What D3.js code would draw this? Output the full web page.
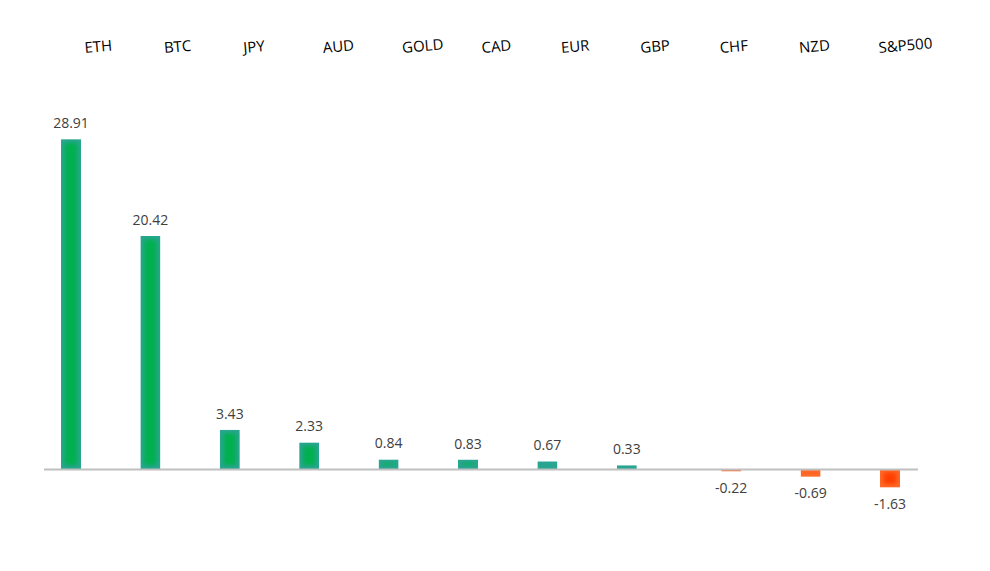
<!DOCTYPE html>
<html><head><meta charset="utf-8">
<script src="https://cdn.jsdelivr.net/npm/d3@7"></script>
<style>html,body{margin:0;padding:0;background:#fff;}svg{display:block;}</style>
</head><body>
<svg id="chart" width="990" height="571"></svg>
<script>
const categories = ["ETH","BTC","JPY","AUD","GOLD","CAD","EUR","GBP","CHF","NZD","S&P500"];
const values = [28.91, 20.42, 3.43, 2.33, 0.84, 0.83, 0.67, 0.33, -0.22, -0.69, -1.63];
const series = ["pos","neg"];

const svg = d3.select("#chart");
const defs = svg.append("defs");

const x0 = d3.scaleBand().domain(categories).range([43.8, 917.2]).paddingInner(0).paddingOuter(0);
const x1 = d3.scaleBand().domain(series).range([-25, 25]);
const y = d3.scaleLinear().domain([0, 30]).range([469, 126.7]);
const barW = 20;

const blur = defs.append("filter").attr("id","soft").attr("x","-50%").attr("y","-50%").attr("width","200%").attr("height","200%");
blur.append("feGaussianBlur").attr("stdDeviation", 2.2);

const colors = {pos:{edge:"#2aa592", core:"#00b04f"}, neg:{edge:"#ff6a28", core:"#ff3c00"}};

const data = categories.map((c,i)=>({cat:c, v:values[i], s: values[i] >= 0 ? "pos" : "neg"}));

const bars = svg.append("g");
data.forEach((d,i)=>{
  const cx = x0(d.cat) + x0.bandwidth()/2 + x1(d.s) + x1.bandwidth()/2;
  const yt = Math.min(y(d.v), y(0)), h = Math.abs(y(d.v) - y(0));
  const bx = cx - barW/2;
  const cp = defs.append("clipPath").attr("id","cp"+i);
  cp.append("rect").attr("x",bx).attr("y",yt).attr("width",barW).attr("height",h);
  const g = bars.append("g").attr("clip-path","url(#cp"+i+")");
  g.append("rect").attr("x",bx).attr("y",yt).attr("width",barW).attr("height",h).attr("fill",colors[d.s].edge);
  const ins = 3.5;
  if (h > 2*ins) {
    g.append("rect").attr("x",bx+ins).attr("y",yt+ins).attr("width",barW-2*ins).attr("height",h-2*ins)
     .attr("fill",colors[d.s].core).attr("filter","url(#soft)");
  }
  svg.append("text")
    .attr("x", cx)
    .attr("y", d.v >= 0 ? y(d.v) - 11 : y(d.v) + 21)
    .attr("text-anchor","middle")
    .attr("font-family","'Open Sans', 'DejaVu Sans', sans-serif")
    .attr("font-size", 14)
    .attr("fill","#404040")
    .text(d.v.toFixed(2));
});

svg.append("line").attr("x1",44).attr("x2",918).attr("y1",y(0)+0.5).attr("y2",y(0)+0.5)
  .attr("stroke","#bfbfbf").attr("stroke-width",2);

categories.forEach(c=>{
  const lx = x0(c) + x0.bandwidth()/2 + 1.5;
  svg.append("text")
    .attr("transform", `translate(${lx},53) rotate(-5)`)
    .attr("text-anchor","start")
    .attr("font-family","'Open Sans', 'DejaVu Sans', sans-serif")
    .attr("font-size", 15)
    .attr("fill","#000")
    .text(c);
});
</script>
</body></html>
